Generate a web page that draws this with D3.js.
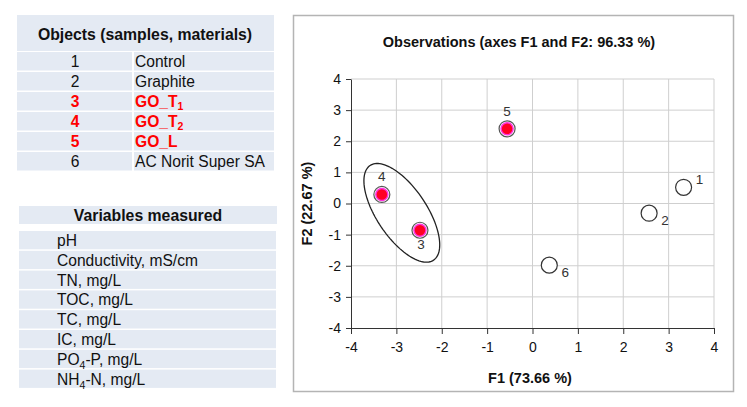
<!DOCTYPE html>
<html><head><meta charset="utf-8">
<script src="https://cdn.jsdelivr.net/npm/d3@7"></script>
<style>
body{margin:0;background:#fff;}
svg{display:block;font-family:"Liberation Sans",Arial,sans-serif;}
</style></head><body>
<svg id="c" width="747" height="407"></svg>
<script>
// ---- data ----
const objectIds = ["1","2","3","4","5","6"];
const objectNames = [["Control"],["Graphite"],["GO_T","1"],["GO_T","2"],["GO_L"],["AC Norit Super SA"]];
const objectHighlight = [false,false,true,true,true,false];
const variables = [["pH"],["Conductivity, mS/cm"],["TN, mg/L"],["TOC, mg/L"],["TC, mg/L"],["IC, mg/L"],["PO","4","-P, mg/L"],["NH","4","-N, mg/L"]];
const pointLabels = ["1","2","3","4","5","6"];
const f1 = [3.33, 2.57, -2.48, -3.32, -0.56, 0.37];
const f2 = [0.52, -0.31, -0.86, 0.29, 2.40, -1.98];
const pointHighlight = [false,false,true,true,true,false];
const labelPos = ["ur","lr","below","above","above","lr"];
const xTicks = [-4,-3,-2,-1,0,1,2,3,4];
const yTicks = [-4,-3,-2,-1,0,1,2,3,4];
// ellipse in data units: centre and two conjugate semi-axis vectors
const ellipseCenter = [-2.88, -0.30];
const ellipseU = [0.70, -1.52];
const ellipseV = [-0.456, -0.450];
const chartTitle = "Observations (axes F1 and F2: 96.33 %)";
const xTitle = "F1 (73.66 %)";
const yTitle = "F2 (22.67 %)";

const svg = d3.select("#c");
const cellBg = "#e4eaf3";
const bodyFont = 15.6;

// ---- table 1 ----
const t1 = svg.append("g");
t1.append("rect").attr("x",17).attr("y",15).attr("width",257).attr("height",36).attr("fill",cellBg);
t1.append("text").attr("x",145).attr("y",39.5).attr("text-anchor","middle")
  .attr("font-size",15.8).attr("font-weight","bold").attr("fill","#111").text("Objects (samples, materials)");
const rowH1 = 20;
objectIds.forEach((id,i)=>{
  const y0 = 52 + i*rowH1;
  t1.append("rect").attr("x",17).attr("y",y0).attr("width",115).attr("height",rowH1-1.5).attr("fill",cellBg);
  t1.append("rect").attr("x",134).attr("y",y0).attr("width",140).attr("height",rowH1-1.5).attr("fill",cellBg);
  const col = objectHighlight[i] ? "#ff0000" : "#111";
  const fw = objectHighlight[i] ? "bold" : "normal";
  t1.append("text").attr("x",75).attr("y",y0+15).attr("text-anchor","middle").attr("font-size",bodyFont)
    .attr("font-weight",fw).attr("fill",col).text(id);
  const tx = t1.append("text").attr("x",135).attr("y",y0+15).attr("font-size",bodyFont).attr("font-weight",fw).attr("fill",col);
  const nm = objectNames[i];
  tx.append("tspan").text(nm[0]);
  if(nm[1]) tx.append("tspan").attr("font-size",10.5).attr("dy",3).text(nm[1]);
});

// ---- table 2 ----
const t2 = svg.append("g");
t2.append("rect").attr("x",19).attr("y",206).attr("width",258).attr("height",18).attr("fill",cellBg);
t2.append("text").attr("x",148).attr("y",221).attr("text-anchor","middle")
  .attr("font-size",15.8).attr("font-weight","bold").attr("fill","#111").text("Variables measured");
const rowH2 = 19.8;
variables.forEach((v,i)=>{
  const y0 = 231 + i*rowH2;
  t2.append("rect").attr("x",19).attr("y",y0).attr("width",257).attr("height",rowH2-1.5).attr("fill",cellBg);
  const tx = t2.append("text").attr("x",57).attr("y",y0+15).attr("font-size",bodyFont).attr("fill","#111");
  tx.append("tspan").text(v[0]);
  if(v[1]){ tx.append("tspan").attr("font-size",10.5).attr("dy",4).text(v[1]);
            tx.append("tspan").attr("dy",-4).text(v[2]); }
});

// ---- chart frame ----
svg.append("rect").attr("x",293.5).attr("y",15.5).attr("width",440).attr("height",376)
  .attr("fill","#fff").attr("stroke","#b4b4b4").attr("stroke-width",1.5);
svg.append("text").attr("x",519).attr("y",47).attr("text-anchor","middle")
  .attr("font-size",14.5).attr("font-weight","bold").attr("fill","#111").text(chartTitle);

const x = d3.scaleLinear().domain([-4,4]).range([351,714]);
const y = d3.scaleLinear().domain([-4,4]).range([328,79]);

const grid = svg.append("g").attr("stroke","#cfcfcf").attr("stroke-width",1);
xTicks.forEach(t=>{ if(t>-4) grid.append("line").attr("x1",x(t)).attr("x2",x(t)).attr("y1",y(4)).attr("y2",y(-4)); });
yTicks.forEach(t=>{ if(t>-4) grid.append("line").attr("x1",x(-4)).attr("x2",x(4)).attr("y1",y(t)).attr("y2",y(t)); });

const fmt = d => String(d);
const xAxis = svg.append("g").attr("transform",`translate(0,${y(-4)})`)
  .call(d3.axisBottom(x).tickValues(xTicks).tickSize(6).tickSizeOuter(0).tickFormat(fmt));
const yAxis = svg.append("g").attr("transform",`translate(${x(-4)},0)`)
  .call(d3.axisLeft(y).tickValues(yTicks).tickSize(5).tickSizeOuter(0).tickFormat(fmt));
[xAxis,yAxis].forEach(a=>{
  a.select(".domain").attr("stroke","#333");
  a.selectAll(".tick line").attr("stroke","#333");
  a.selectAll(".tick text").attr("fill","#111").attr("font-size",14).attr("font-family","Liberation Sans, Arial, sans-serif");
});
xAxis.selectAll(".tick text").attr("dy","1.05em");
yAxis.selectAll(".tick text").attr("dx","-2");

svg.append("text").attr("x",530).attr("y",383).attr("text-anchor","middle")
  .attr("font-size",14.5).attr("font-weight","bold").attr("fill","#111").text(xTitle);
svg.append("text").attr("transform",`translate(312,${y(0)}) rotate(-90)`).attr("text-anchor","middle")
  .attr("font-size",14.5).attr("font-weight","bold").attr("fill","#111").text(yTitle);

// ellipse
const ell = d3.range(0,361,3).map(a=>{
  const t = a*Math.PI/180;
  return [x(ellipseCenter[0]+ellipseU[0]*Math.cos(t)+ellipseV[0]*Math.sin(t)),
          y(ellipseCenter[1]+ellipseU[1]*Math.cos(t)+ellipseV[1]*Math.sin(t))];
});
svg.append("path").attr("d",d3.line()(ell)+"Z").attr("fill","none").attr("stroke","#222").attr("stroke-width",1.3);

// points
const pts = svg.append("g");
f1.forEach((v,i)=>{
  const px = x(v), py = y(f2[i]);
  if(pointHighlight[i]){
    pts.append("circle").attr("cx",px).attr("cy",py).attr("r",8).attr("fill","#fff").attr("stroke","#555").attr("stroke-width",1.2);
    pts.append("circle").attr("cx",px).attr("cy",py).attr("r",6).attr("fill","#ff0022").attr("stroke","#ff33dd").attr("stroke-width",1.5);
  } else {
    pts.append("circle").attr("cx",px).attr("cy",py).attr("r",8).attr("fill","#fff").attr("stroke","#333").attr("stroke-width",1.2);
  }
  let dx=0, dy=0;
  if(labelPos[i]==="ur"){dx=16;dy=-3;}
  else if(labelPos[i]==="lr"){dx=16;dy=12;}
  else if(labelPos[i]==="below"){dx=1;dy=19;}
  else if(labelPos[i]==="above"){dx=0;dy=-13;}
  pts.append("text").attr("x",px+dx).attr("y",py+dy).attr("text-anchor","middle")
    .attr("font-size",13.5).attr("fill","#333").text(pointLabels[i]);
});
</script>
</body></html>
